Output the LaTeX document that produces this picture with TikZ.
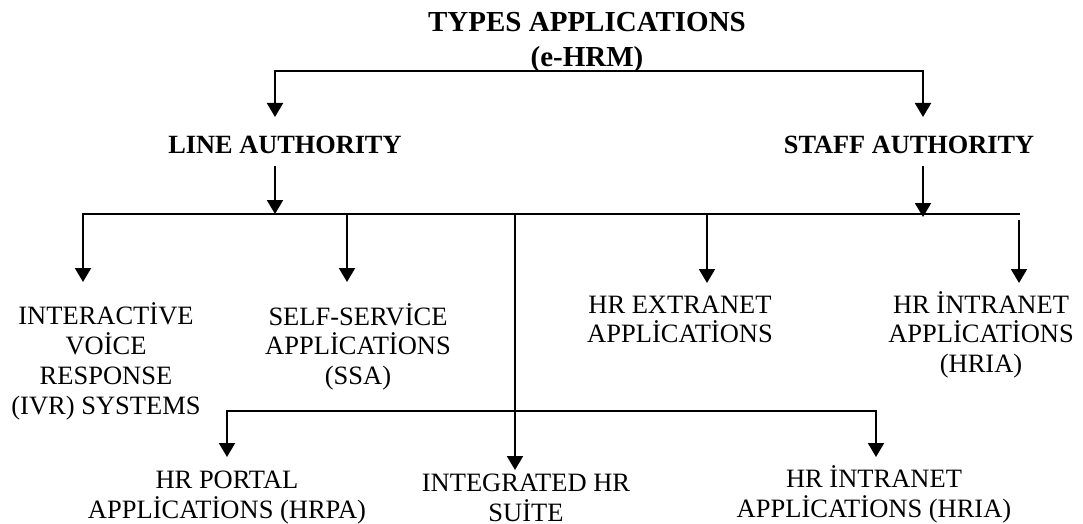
\documentclass[tikz,border=0pt]{standalone}
\usepackage{fontspec}
\setmainfont{Liberation Serif}
\usetikzlibrary{arrows.meta}
\tikzset{
  conn/.style={line width=2pt},
  arr/.style={conn, -{Triangle[length=14pt,width=16pt]}},
  lbl/.style={font=\fontsize{26.5}{29.7}\selectfont, align=center, inner sep=0pt, anchor=base},
  headlbl/.style={font=\bfseries\fontsize{26.3}{30}\selectfont, inner sep=0pt, anchor=base},
  ttl/.style={font=\bfseries\fontsize{29}{35}\selectfont, align=center, inner sep=0pt, anchor=base},
}
\begin{document}
\begin{tikzpicture}[x=1pt,y=-1pt]
\useasboundingbox (0,0) rectangle (1083,524);
% texts (anchor base = baseline of the last line)
\node[ttl] (title) at (587,67) {TYPES APPLICATIONS\\(e-HRM)};
\node[headlbl] (la) at (285,153) {LINE AUTHORITY};
\node[headlbl] (sa) at (909,153) {STAFF AUTHORITY};
\node[lbl] (ivr) at (106,414) {INTERACTİVE\\VOİCE\\RESPONSE\\(IVR) SYSTEMS};
\node[lbl] (ssa) at (358,384.4) {SELF-SERVİCE\\APPLİCATİONS\\(SSA)};
\node[lbl] (ext) at (680,342.7) {HR EXTRANET\\APPLİCATİONS};
\node[lbl] (hriaA) at (981,372.4) {HR İNTRANET\\APPLİCATİONS\\(HRIA)};
\node[lbl] (hrpa) at (227,518) {HR PORTAL\\APPLİCATİONS (HRPA)};
\node[lbl] (ihr) at (526,521) {INTEGRATED HR\\SUİTE};
\node[lbl] (hriaB) at (874,517) {HR İNTRANET\\APPLİCATİONS (HRIA)};
% connector points
\coordinate (tbus) at (587,70.7);
\coordinate (laIn) at (275,117);
\coordinate (saIn) at (923,117);
\coordinate (laOut) at (275,166);
\coordinate (laBus) at (275,214);
\coordinate (saOut) at (923,166);
\coordinate (saBus) at (923,217);
\coordinate (mJ) at (515,214);
\coordinate (mR) at (1020,214);
\coordinate (ivrIn) at (83,282);
\coordinate (ssaIn) at (347,282);
\coordinate (extIn) at (707,283);
\coordinate (hriaTop) at (1019,220);
\coordinate (hriaAIn) at (1019,283);
\coordinate (ihrIn) at (515,470);
\coordinate (bJ) at (515,411);
\coordinate (hrpaIn) at (227,457);
\coordinate (hriaBIn) at (876,457);
% connectors
\draw[arr] (tbus) -| (laIn);
\draw[arr] (tbus) -| (saIn);
\draw[arr] (laOut) -- (laBus);
\draw[arr] (saOut) -- (saBus);
\draw[arr] (mJ) -| (ivrIn);
\draw[arr] (mJ) -| (ssaIn);
\draw[arr] (mJ) -| (extIn);
\draw[conn] (mJ) -- (mR);
\draw[arr] (hriaTop) -- (hriaAIn);
\draw[arr] (mJ) -- (ihrIn);
\draw[arr] (bJ) -| (hrpaIn);
\draw[arr] (bJ) -| (hriaBIn);
\end{tikzpicture}
\end{document}
